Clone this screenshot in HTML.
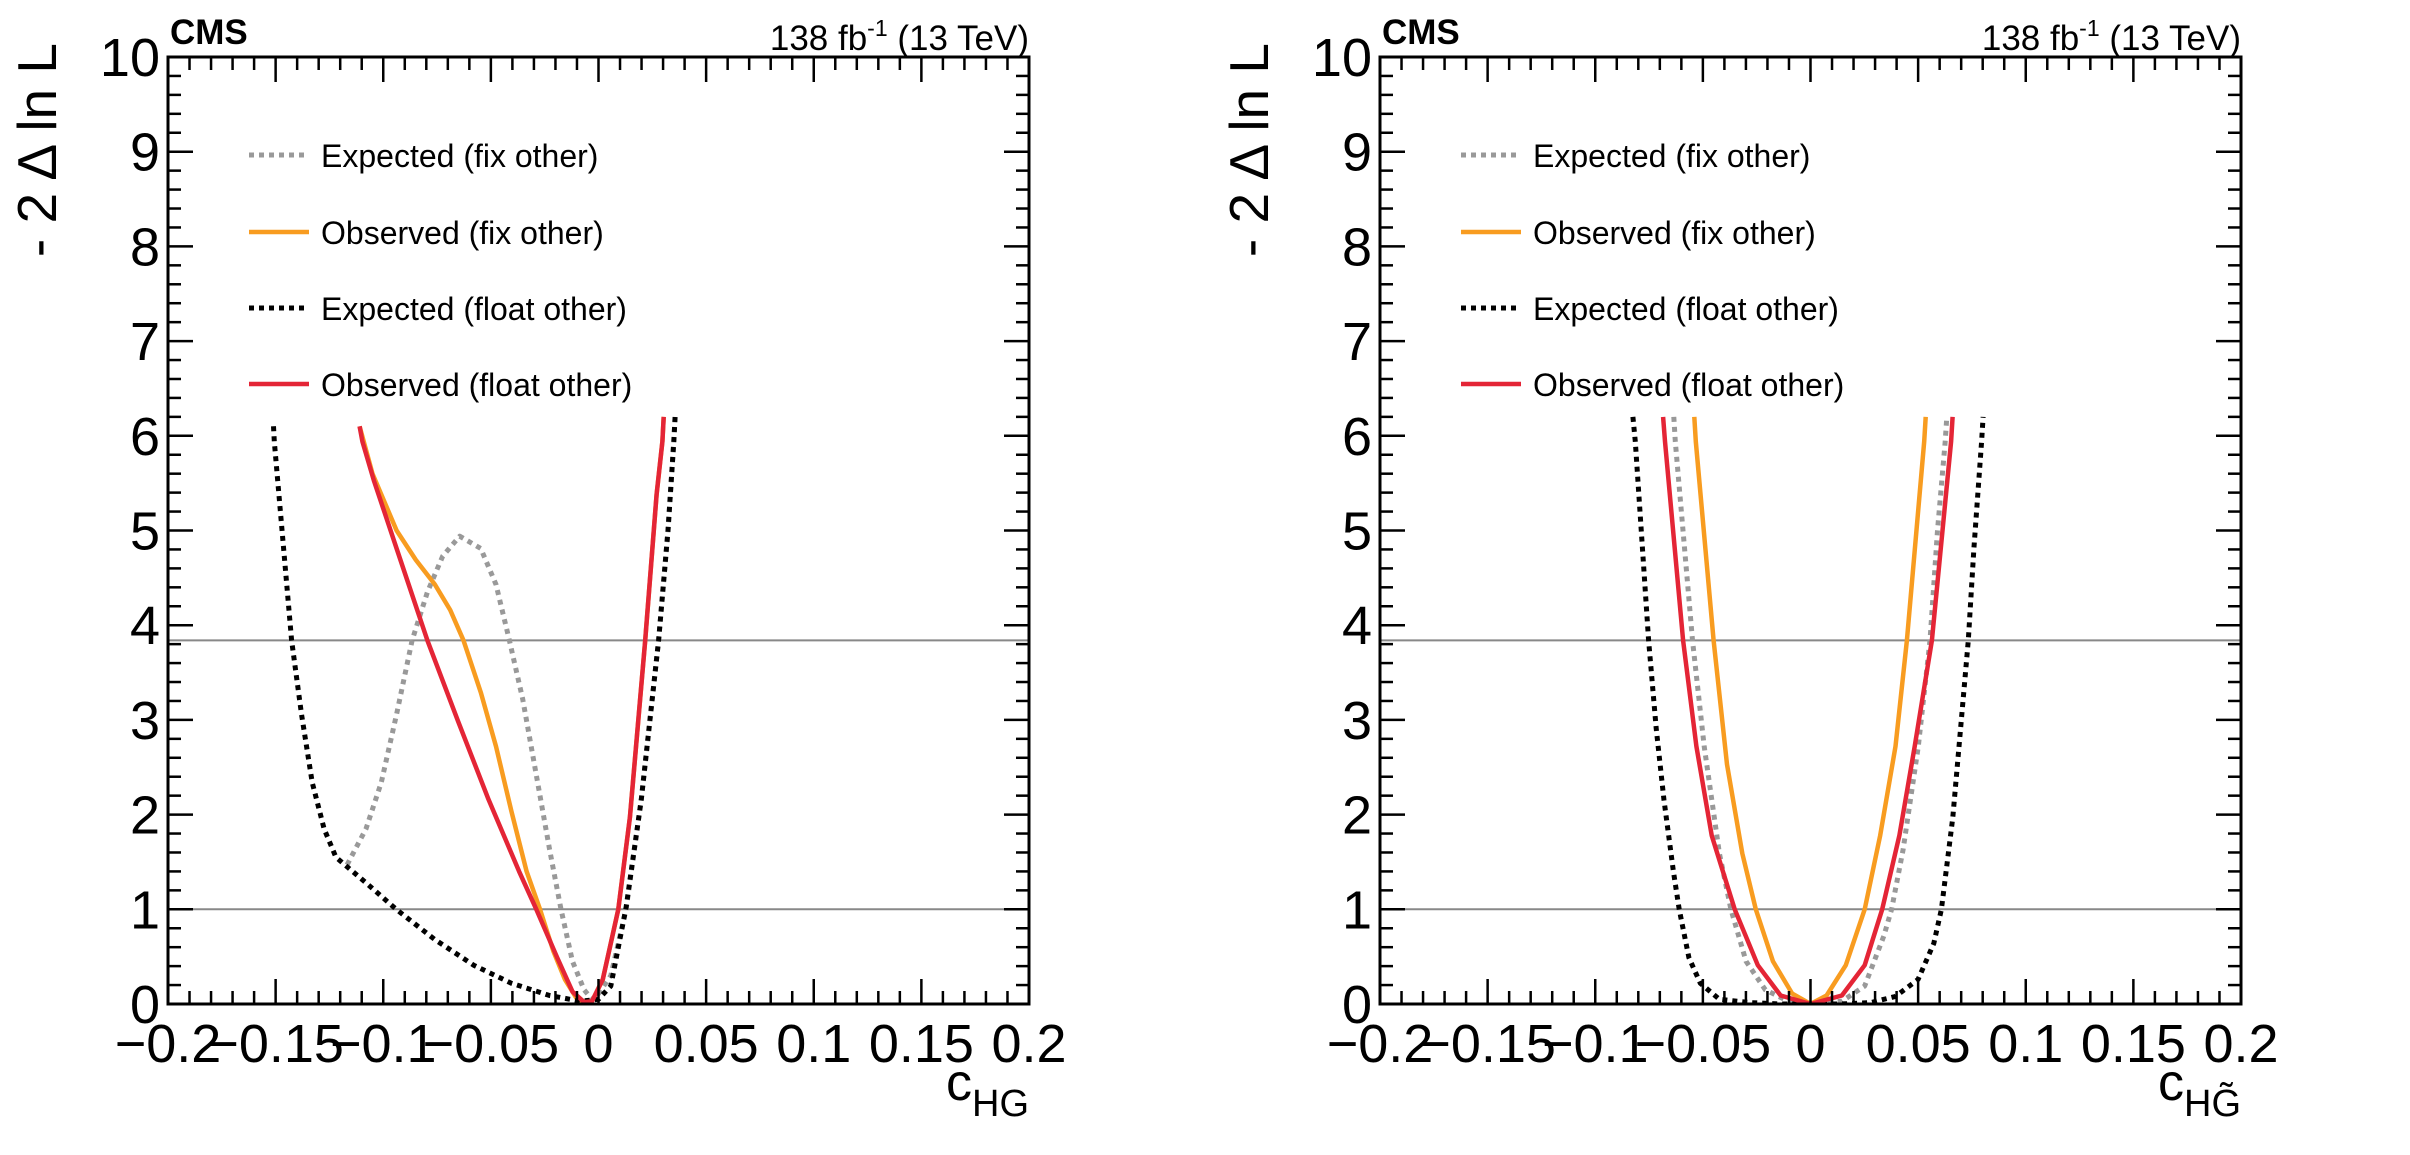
<!DOCTYPE html>
<html><head><meta charset="utf-8"><style>
html,body{margin:0;padding:0;background:#fff;}
svg{display:block;font-family:"Liberation Sans",Arial,sans-serif;}
</style></head><body>
<svg id="fig" width="2410" height="1155" viewBox="0 0 2410 1155" xmlns="http://www.w3.org/2000/svg"></svg>
<script>
// ---- data: left panel (c_HG) ----
const L_expFix_x = [-0.1168,-0.108,-0.1009,-0.0938,-0.0866,-0.0795,-0.0724,-0.0645,-0.0547,-0.0476,-0.0414,-0.0352,-0.0298,-0.0227,-0.0174,-0.0121,-0.0067,-0.003,0,0.0057,0.0128,0.0199,0.0279,0.0323,0.035,0.0356];
const L_expFix_y = [1.47,1.85,2.34,3.06,3.84,4.35,4.73,4.94,4.81,4.43,3.84,3.22,2.53,1.63,1.0,0.45,0.15,0.05,0.11,0.3,1.0,2.16,3.84,5.0,5.94,6.2];
const L_obsFix_x = [-0.111,-0.105,-0.1009,-0.0938,-0.0849,-0.076,-0.0689,-0.0627,-0.0547,-0.0476,-0.0405,-0.0334,-0.0272,-0.021,-0.0156,-0.0094,-0.0067,-0.003,0.002,0.0092,0.0146,0.0217,0.027,0.0297,0.0303];
const L_obsFix_y = [6.1,5.6,5.38,5.0,4.69,4.43,4.16,3.84,3.29,2.72,2.04,1.40,1.0,0.56,0.26,0.03,0.02,0.03,0.26,1.0,1.97,3.84,5.38,5.94,6.2];
const L_expFloat_x = [-0.151,-0.1506,-0.1426,-0.138,-0.133,-0.1275,-0.122,-0.108,-0.094,-0.076,-0.058,-0.0405,-0.0227,-0.0085,0,0.0057,0.0128,0.0199,0.0279,0.0323,0.035,0.0356];
const L_expFloat_y = [6.1,5.94,3.84,3.06,2.34,1.85,1.55,1.28,1.0,0.68,0.41,0.22,0.09,0.03,0.05,0.19,1.02,2.16,3.84,5.0,5.94,6.2];
const L_obsFloat_x = [-0.111,-0.1097,-0.1044,-0.0938,-0.0795,-0.0653,-0.0511,-0.0369,-0.0289,-0.0192,-0.0121,-0.0067,-0.003,0.002,0.0092,0.0146,0.0217,0.027,0.0297,0.0303];
const L_obsFloat_y = [6.1,5.94,5.53,4.81,3.84,2.99,2.16,1.40,1.0,0.49,0.13,0.02,0.03,0.26,1.0,1.97,3.84,5.38,5.94,6.2];
// ---- data: right panel (c_HGtilde) ----
const R_expFix_x = [-0.0635,-0.0628,-0.0548,-0.0494,-0.0423,-0.037,-0.0299,-0.021,-0.0103,0,0.0146,0.0252,0.0341,0.0377,0.043,0.0501,0.0555,0.059,0.0626,0.0633];
const R_expFix_y = [6.2,5.94,3.84,2.72,1.59,1.0,0.45,0.15,0.03,0,0.03,0.19,0.72,1.0,1.63,2.72,3.84,5.0,5.94,6.2];
const R_obsFix_x = [-0.054,-0.0533,-0.045,-0.0388,-0.0317,-0.0254,-0.0174,-0.0085,0,0.0075,0.0164,0.0252,0.0324,0.0395,0.0448,0.0528,0.0535];
const R_obsFix_y = [6.2,5.94,3.84,2.53,1.59,1.0,0.45,0.11,0,0.09,0.41,1.0,1.78,2.72,3.84,5.94,6.2];
const R_expFloat_x = [-0.0825,-0.0814,-0.0752,-0.0717,-0.0681,-0.0637,-0.061,-0.0565,-0.0512,-0.0423,-0.028,-0.014,0,0.014,0.028,0.0395,0.050,0.0573,0.0608,0.0661,0.0733,0.0759,0.0795,0.0802];
const R_expFloat_y = [6.2,5.94,3.84,2.91,2.16,1.4,1.0,0.49,0.22,0.05,0.015,0,0,0,0.015,0.08,0.26,0.64,1.0,1.97,3.84,4.81,5.94,6.2];
const R_obsFloat_x = [-0.0685,-0.0676,-0.0592,-0.053,-0.0459,-0.0352,-0.0245,-0.0139,0,0.0146,0.0252,0.0333,0.0413,0.0484,0.0564,0.0653,0.066];
const R_obsFloat_y = [6.2,5.94,3.84,2.72,1.78,1.0,0.41,0.09,0,0.09,0.41,1.0,1.78,2.72,3.84,5.94,6.2];
const xTicks = [-0.2,-0.15,-0.1,-0.05,0,0.05,0.1,0.15,0.2];
const xTickLabels = ["\u22120.2","\u22120.15","\u22120.1","\u22120.05","0","0.05","0.1","0.15","0.2"];
const yTicks = [0,1,2,3,4,5,6,7,8,9,10];
const refLines = [1,3.84];
const legendLabels = ["Expected (fix other)","Observed (fix other)","Expected (float other)","Observed (float other)"];

const NS="http://www.w3.org/2000/svg";
const svg=document.getElementById('fig');
function mk(tag,attrs,parent){const e=document.createElementNS(NS,tag);for(const k in attrs)e.setAttribute(k,attrs[k]);(parent||svg).appendChild(e);return e;}
const styles=[
 {c:'#999999',w:5,d:'5 5'},
 {c:'#f89c20',w:4.5,d:null},
 {c:'#000000',w:5,d:'5 5'},
 {c:'#e42536',w:4.5,d:null}];
const keys=['expected-fix-other','observed-fix-other','expected-float-other','observed-float-other'];

function panel(x0,prefix,series,xtitleSub){
  const x1=x0+861, yT=57, yB=1004;
  const X=v=>x0+(v+0.2)/0.4*(x1-x0);
  const Y=v=>yB-v/10*(yB-yT);
  const g=mk('g',{});
  
  
  const clip=mk('clipPath',{id:prefix+'clip'},g);
  mk('rect',{x:x0,y:yT,width:x1-x0,height:yB-yT},clip);
  refLines.forEach(r=>{const l=mk('line',{x1:x0,x2:x1,y1:Y(r),y2:Y(r),stroke:'#888',"stroke-width":2},g);
    
    });
  series.forEach((s,i)=>{
    const st=styles[i];
    const pts=s[0].map((v,j)=>X(v).toFixed(1)+','+Y(s[1][j]).toFixed(1)).join(' ');
    const p=mk('polyline',{points:pts,fill:'none',stroke:st.c,"stroke-width":st.w,"stroke-linejoin":'round','clip-path':'url(#'+prefix+'clip)'},g);
    if(st.d)p.setAttribute('stroke-dasharray',st.d);
    
    
  });
  const fr=mk('rect',{x:x0,y:yT,width:x1-x0,height:yB-yT,fill:'none',stroke:'#000',"stroke-width":3},g);
  
  
  for(let k=0;k<=40;k++){const v=-0.2+k*0.01;const maj=k%5===0;const len=maj?25:13;
    mk('line',{x1:X(v),x2:X(v),y1:yB,y2:yB-len,stroke:'#000',"stroke-width":2.5},g);
    mk('line',{x1:X(v),x2:X(v),y1:yT,y2:yT+len,stroke:'#000',"stroke-width":2.5},g);}
  for(let k=0;k<=50;k++){const v=k*0.2;const maj=k%5===0;const len=maj?25:13;
    mk('line',{x1:x0,x2:x0+len,y1:Y(v),y2:Y(v),stroke:'#000',"stroke-width":2.5},g);
    mk('line',{x1:x1,x2:x1-len,y1:Y(v),y2:Y(v),stroke:'#000',"stroke-width":2.5},g);}
  xTicks.forEach((v,i)=>{const t=mk('text',{x:X(v),y:1062,"font-size":54,"text-anchor":'middle'},g);t.textContent=xTickLabels[i];
    
    });
  yTicks.forEach(v=>{const t=mk('text',{x:x0-8,y:Y(v)+19,"font-size":54,"text-anchor":'end'},g);t.textContent=String(v);
    
    });
  const yt=mk('text',{x:0,y:0,"font-size":55,"text-anchor":'end',transform:'translate('+(x0-112)+','+(yT-14)+') rotate(-90)'},g);
  yt.textContent='- 2 \u0394 ln L';
  
  
  const xt=mk('text',{x:x1,y:1100,"font-size":52,"text-anchor":'end'},g);
  
  
  const c=mk('tspan',{},xt);c.textContent='c';
  const sb=mk('tspan',{dy:16,"font-size":38},xt);sb.textContent=xtitleSub;
  const cms=mk('text',{x:x0+2,y:44,"font-size":35,"font-weight":'bold'},g);cms.textContent='CMS';
  
  
  const lu=mk('text',{x:x1,y:50,"font-size":35,"text-anchor":'end'},g);
  
  
  const a=mk('tspan',{},lu);a.textContent='138 fb';
  const b=mk('tspan',{dy:-14,"font-size":23},lu);b.textContent='-1';
  const d=mk('tspan',{dy:14},lu);d.textContent=' (13 TeV)';
  const ly=[155,232,308,384];
  legendLabels.forEach((lab,i)=>{const st=styles[i];
    const lg=mk('g',{},g);
    
    
    const ln=mk('line',{x1:x0+81,x2:x0+141,y1:ly[i],y2:ly[i],stroke:st.c,"stroke-width":st.w},lg);
    if(st.d)ln.setAttribute('stroke-dasharray',st.d);
    const t=mk('text',{x:x0+153,y:ly[i]+12,"font-size":32},lg);t.textContent=lab;});
}
panel(168,'left',[[L_expFix_x,L_expFix_y],[L_obsFix_x,L_obsFix_y],[L_expFloat_x,L_expFloat_y],[L_obsFloat_x,L_obsFloat_y]],'HG');
panel(1380,'right',[[R_expFix_x,R_expFix_y],[R_obsFix_x,R_obsFix_y],[R_expFloat_x,R_expFloat_y],[R_obsFloat_x,R_obsFloat_y]],'HG\u0303');
</script>
</body></html>
